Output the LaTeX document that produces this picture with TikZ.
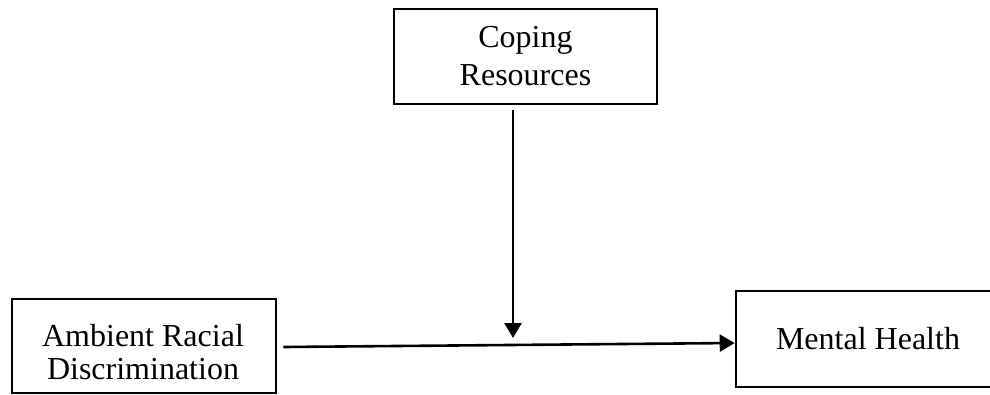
\documentclass[tikz,border=0pt]{standalone}
\usepackage{fontspec}
\setmainfont{Liberation Serif}
\usetikzlibrary{arrows.meta}
\begin{document}
\begin{tikzpicture}[x=1pt,y=-1pt,
  box/.style={draw=black,line width=2.6pt,inner sep=0pt,align=center,
    font=\fontsize{32}{38}\selectfont},
  label text/.style={inner sep=0pt,align=center,
    font=\fontsize{32}{32.5}\selectfont},
  link/.style={line width=2.6pt,-{Triangle[length=15pt,width=17pt]}}]
\useasboundingbox (0,0) rectangle (990,394);
% the three construct boxes
\node[box,minimum width=263pt,minimum height=95pt] (cope) at (525.5,56.5)
  {Coping\\Resources};
\node[box,minimum width=264pt,minimum height=94pt] (ard) at (144,346) {};
\node[label text] (ardtext) at (143,352) {Ambient Racial\\Discrimination};
\node[box,minimum width=264pt,minimum height=96pt] (mh) at (868,339)
  {Mental Health};
% main path and the moderating arrow onto it
\draw[link] ([xshift=6pt,yshift=-1pt]ard.east) -- ([yshift=-4pt]mh.west);
\coordinate (mod) at (513,338);
\draw[link] ([xshift=-12.5pt,yshift=-5pt]cope.south) -- (mod);
\end{tikzpicture}
\end{document}
